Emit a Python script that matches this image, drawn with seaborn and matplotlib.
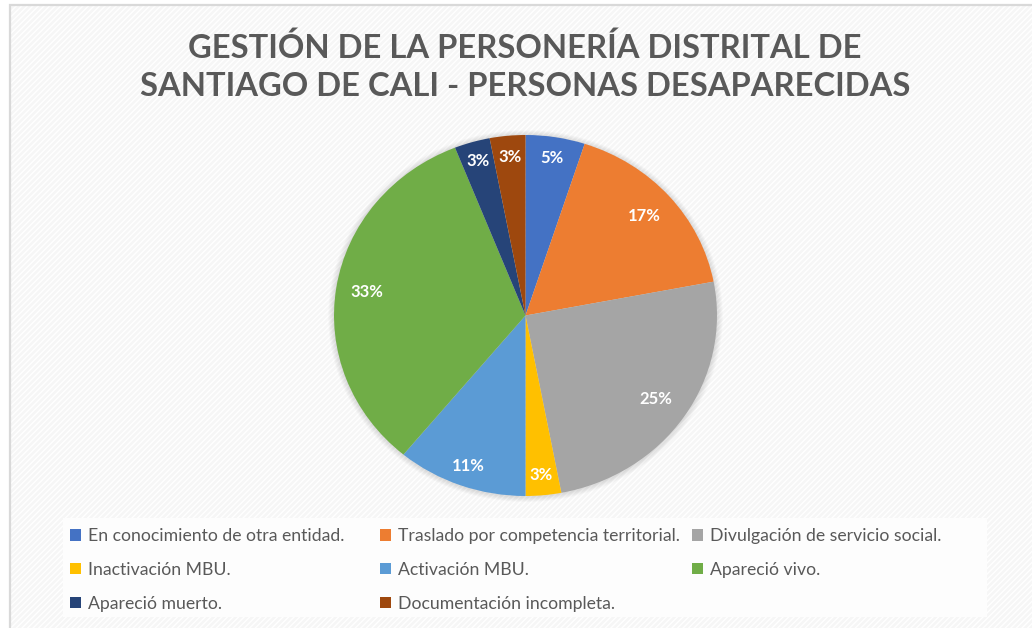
import matplotlib
matplotlib.use('Agg')
import matplotlib.pyplot as plt
import seaborn as sns
import numpy as np
from matplotlib.patches import Rectangle, Ellipse

# categories and their share (%) as shown on the chart, clockwise from 12 o'clock
categories = [
    'En conocimiento de otra entidad.',
    'Traslado por competencia territorial.',
    'Divulgación de servicio social.',
    'Inactivación MBU.',
    'Activación MBU.',
    'Apareció vivo.',
    'Apareció muerto.',
    'Documentación incompleta.',
]
shares = [5, 17, 25, 3, 11, 33, 3, 3]
slice_colors = ['#4472C4', '#ED7D31', '#A5A5A5', '#FFC000',
                '#5B9BD5', '#70AD47', '#264478', '#9E480E']
title_lines = ['GESTIÓN DE LA PERSONERÍA DISTRITAL DE',
               'SANTIAGO DE CALI - PERSONAS DESAPARECIDAS']

# how far from the centre each percentage label sits (fraction of radius)
label_dist = [0.885, 0.83, 0.825, 0.89, 0.885, 0.84, 0.89, 0.88]

W, H, DPI = 1032, 628, 100
TEXT_GREY = '#595959'
FONT = 'Lato'


def fx(px):
    return px / W


def fy(py):
    return 1 - py / H


def fit_text(fig, txt, target_px):
    # shrink/grow the font until the text is as wide as in the reference
    r = fig.canvas.get_renderer()
    for _ in range(3):
        w = txt.get_window_extent(renderer=r).width
        txt.set_fontsize(txt.get_fontsize() * target_px / w)


def draw_background(fig):
    fig.patches.append(Rectangle((fx(10), -0.1), 1.2, fy(5) + 0.1,
                                 transform=fig.transFigure, facecolor='#F6F6F6',
                                 edgecolor='#FFFFFF', hatch='//////', linewidth=0,
                                 zorder=-5))
    fig.patches.append(Rectangle((fx(10), -0.1), 1.2, fy(5) + 0.1,
                                 transform=fig.transFigure, facecolor='none',
                                 edgecolor='#D9D9D9', linewidth=1.6, zorder=-4))
    # white legend panel
    fig.patches.append(Rectangle((fx(63), fy(617)), fx(987) - fx(63), fy(518) - fy(617),
                                 transform=fig.transFigure, facecolor='#FDFDFD',
                                 edgecolor='none', zorder=-3))


def draw_pie(fig):
    ax = fig.add_axes([fx(334), fy(496), fx(717) - fx(334), fy(135) - fy(496)])
    # soft shadow around the pie
    for k in range(6):
        r = 1.0 + 0.005 * (k + 1)
        ax.add_patch(Ellipse((0, -0.003), 2 * r, 2 * r, facecolor='#000000',
                             alpha=0.018, edgecolor='none', zorder=0, clip_on=False))
    wedges, _, autotexts = ax.pie(
        shares, colors=slice_colors, startangle=90, counterclock=False,
        autopct=lambda p: f'{p:.0f}%', wedgeprops=dict(linewidth=0),
        textprops=dict(color='white', fontweight='bold', fontsize=12, family=FONT))
    for w in wedges:
        w.set_zorder(2)
    for w, t, d in zip(wedges, autotexts, label_dist):
        ang = np.deg2rad((w.theta1 + w.theta2) / 2)
        t.set_position((d * np.cos(ang), d * np.sin(ang)))
        t.set_zorder(3)
    ax.set_aspect('auto')
    ax.set_xlim(-1, 1)
    ax.set_ylim(-1, 1)
    ax.axis('off')
    return wedges


def draw_legend(fig, wedges):
    # Excel fills the legend row by row, three entries per row
    col_x = [70, 380, 692]
    for c, x in enumerate(col_x):
        idx = list(range(c, len(categories), 3))
        fig.legend([wedges[i] for i in idx], [categories[i] for i in idx],
                   loc='upper left', bbox_to_anchor=(fx(x), fy(528)),
                   bbox_transform=fig.transFigure, frameon=False,
                   borderaxespad=0, borderpad=0,
                   handlelength=0.62, handleheight=0.62, handletextpad=0.4,
                   labelspacing=1.02, labelcolor=TEXT_GREY,
                   prop=dict(family=FONT, size=12.7))


def main():
    sns.set_theme(style='white')
    plt.rcParams['font.family'] = [FONT, 'DejaVu Sans']
    fig = plt.figure(figsize=(W / DPI, H / DPI), dpi=DPI, facecolor='white')
    draw_background(fig)

    t1 = fig.text(fx(525), fy(48), title_lines[0], ha='center', va='center',
                  fontsize=26, fontweight='bold', color=TEXT_GREY, family=FONT)
    t2 = fig.text(fx(525), fy(87), title_lines[1], ha='center', va='center',
                  fontsize=26, fontweight='bold', color=TEXT_GREY, family=FONT)
    fit_text(fig, t2, 770)
    t1.set_fontsize(t2.get_fontsize())

    wedges = draw_pie(fig)
    draw_legend(fig, wedges)
    fig.savefig('out.png', dpi=DPI, facecolor='white')


if __name__ == '__main__':
    main()
